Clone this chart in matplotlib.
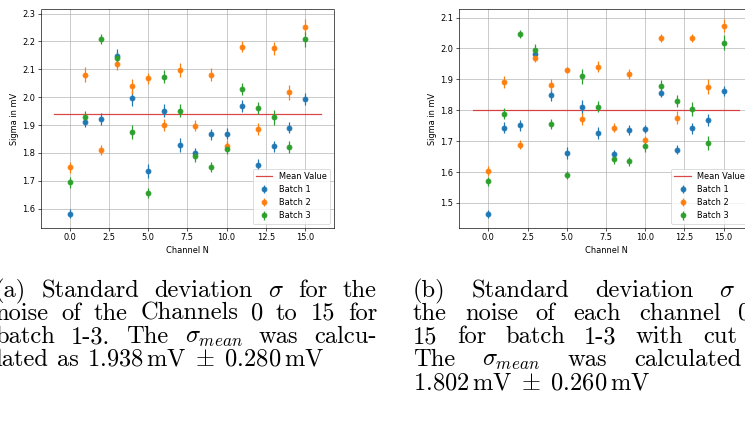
import numpy as np
import matplotlib
matplotlib.use("Agg")
import matplotlib.pyplot as plt

channels = np.arange(16)

# (a) all data
a_b1 = [1.582, 1.910, 1.921, 2.147, 1.996, 1.736, 1.952, 1.827, 1.799, 1.866, 1.868, 1.968, 1.758, 1.823, 1.891, 1.994]
a_b1_err = [0.015, 0.018, 0.022, 0.025, 0.028, 0.025, 0.025, 0.025, 0.020, 0.020, 0.020, 0.020, 0.020, 0.020, 0.020, 0.022]
a_b2 = [1.749, 2.081, 1.810, 2.119, 2.039, 2.067, 1.899, 2.099, 1.897, 2.081, 1.825, 2.181, 1.885, 2.175, 2.018, 2.252]
a_b2_err = [0.020, 0.027, 0.017, 0.022, 0.027, 0.020, 0.022, 0.025, 0.020, 0.022, 0.020, 0.020, 0.022, 0.022, 0.027, 0.027]
a_b3 = [1.694, 1.928, 2.207, 2.141, 1.876, 1.656, 2.074, 1.952, 1.787, 1.751, 1.815, 2.029, 1.962, 1.927, 1.822, 2.207]
a_b3_err = [0.020, 0.022, 0.018, 0.020, 0.025, 0.018, 0.025, 0.022, 0.020, 0.018, 0.020, 0.022, 0.022, 0.027, 0.022, 0.027]
a_mean = 1.938

# (b) with cut
b_b1 = [1.464, 1.744, 1.751, 1.983, 1.849, 1.662, 1.810, 1.726, 1.657, 1.736, 1.740, 1.855, 1.672, 1.741, 1.769, 1.863]
b_b1_err = [0.012, 0.017, 0.017, 0.015, 0.020, 0.020, 0.022, 0.020, 0.015, 0.015, 0.013, 0.013, 0.015, 0.017, 0.020, 0.017]
b_b2 = [1.603, 1.891, 1.689, 1.970, 1.882, 1.930, 1.772, 1.941, 1.744, 1.917, 1.703, 2.034, 1.776, 2.034, 1.876, 2.074]
b_b2_err = [0.015, 0.020, 0.015, 0.015, 0.020, 0.010, 0.020, 0.017, 0.015, 0.015, 0.015, 0.013, 0.020, 0.013, 0.025, 0.020]
b_b3 = [1.570, 1.789, 2.048, 1.996, 1.756, 1.592, 1.910, 1.812, 1.642, 1.635, 1.684, 1.878, 1.830, 1.804, 1.694, 2.019]
b_b3_err = [0.015, 0.017, 0.013, 0.017, 0.017, 0.013, 0.025, 0.017, 0.017, 0.015, 0.020, 0.020, 0.020, 0.023, 0.022, 0.025]
b_mean = 1.802

mean_x = [-1, 16]
batch_labels = ["Batch 1", "Batch 2", "Batch 3"]

DPI = 59
W, H = 745, 430
fig = plt.figure(figsize=(W / DPI, H / DPI), dpi=DPI)
plt.rcParams['mathtext.fontset'] = 'cm'

ax_w, ax_h = 293.3, 218.2
ax_bottom = 227.7


def make_ax(left_px, b1, e1, b2, e2, b3, e3, mean):
    ax = fig.add_axes([left_px / W, 1 - ax_bottom / H, ax_w / W, ax_h / H])
    ax.plot(mean_x, [mean, mean], color='tab:red', alpha=0.85, label='Mean Value')
    for vals, errs, lab in zip((b1, b2, b3), (e1, e2, e3), batch_labels):
        ax.errorbar(channels, vals, yerr=errs, fmt='o', label=lab)
    ax.grid(True)
    ax.set_xlabel("Channel N")
    ax.set_ylabel("Sigma in mV")
    ax.legend(loc='lower right')
    return ax


make_ax(40.7, a_b1, a_b1_err, a_b2, a_b2_err, a_b3, a_b3_err, a_mean)
make_ax(459.3, b_b1, b_b1_err, b_b2, b_b2_err, b_b3, b_b3_err, b_mean)

# captions
cap_px = 24.5
cap_pt = cap_px * 72 / DPI
renderer = fig.canvas.get_renderer()


def word_width(s):
    t = fig.text(0, 0, s, family='cmr10', fontsize=cap_pt)
    w = t.get_window_extent(renderer).width
    t.remove()
    return w


def place_line(words, x0, x1, y, justify=True):
    yf = 1 - y / H
    widths = [word_width(w) for w in words]
    if justify and len(words) > 1:
        gap = (x1 - x0 - sum(widths)) / (len(words) - 1)
    else:
        gap = 0.36 * cap_px
    x = x0
    for w, wd in zip(words, widths):
        fig.text(x / W, yf, w, family='cmr10', fontsize=cap_pt, va='baseline', ha='left')
        x += wd + gap


baselines = [297, 320, 343, 366, 389]

capA = [
    ["(a)", "Standard", "deviation", r"$\sigma$", "for", "the"],
    ["noise", "of", "the", "Channels", "0", "to", "15", "for"],
    ["batch", "1-3.", "The", r"$\sigma_{mean}$", "was", "calcu-"],
    ["lated", "as", r"$1.938\,\mathrm{mV}\;\pm\;0.280\,\mathrm{mV}$"],
]
capB = [
    ["(b)", "Standard", "deviation", r"$\sigma$", "for"],
    ["the", "noise", "of", "each", "channel", "0", "to"],
    ["15", "for", "batch", "1-3", "with", "cut", "the"],
    ["The", r"$\sigma_{mean}$", "was", "calculated", "as"],
    [r"$1.802\,\mathrm{mV}\;\pm\;0.260\,\mathrm{mV}$"],
]

ax0, ax1 = -5, 377
for i, words in enumerate(capA):
    place_line(words, ax0, ax1, baselines[i], justify=(i < len(capA) - 1))
bx0, bx1 = 413, 790
for i, words in enumerate(capB):
    place_line(words, bx0, bx1, baselines[i], justify=(i < len(capB) - 1))

fig.savefig("out.png", dpi=DPI)
